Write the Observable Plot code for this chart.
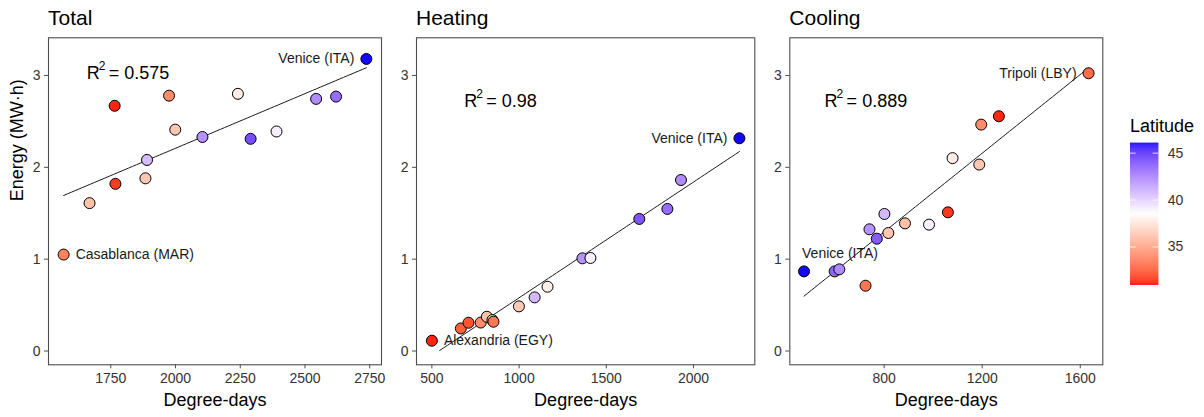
<!DOCTYPE html>
<html><head><meta charset="utf-8">
<script src="https://cdn.jsdelivr.net/npm/d3@7"></script>
<script src="https://cdn.jsdelivr.net/npm/@observablehq/plot@0.6"></script>
<style>
body{margin:0;background:#fff;font-family:"Liberation Sans",Arial,sans-serif;}
#wrap{position:relative;width:1204px;height:417px;overflow:hidden;background:#fff;}
.panel{position:absolute;}
.title{position:absolute;font-size:21px;line-height:21px;color:#000;white-space:nowrap;}
.ltitle{position:absolute;font-size:18px;line-height:18px;color:#000;white-space:nowrap;}
</style></head><body><div id="wrap"></div>
<script>
// ---- data ----
const panelNames = ["Total", "Heating", "Cooling"];
const yTicks = [0, 1, 2, 3];
const yDomain = [-0.15, 3.41];

const totalTicks = [1750, 2000, 2250, 2500, 2750];
const totalX   = [2737, 1765, 1975, 2241, 1999, 2104, 2290, 2390, 2543, 2620, 1890, 1884, 1768, 1668, 1568];
const totalY   = [3.18, 2.67, 2.78, 2.80, 2.41, 2.33, 2.31, 2.39, 2.745, 2.77, 2.08, 1.88, 1.82, 1.61, 1.05];
const totalLat = [46.0, 31.2, 34.0, 37.8, 36.2, 42.0, 44.2, 39.0, 42.2, 43.2, 40.6, 36.2, 31.6, 36.0, 33.6];
const totalLabel = ["Venice (ITA)", "", "", "", "", "", "", "", "", "", "", "", "", "", "Casablanca (MAR)"];

const heatingTicks = [500, 1000, 1500, 2000];
const heatingX   = [500, 666, 710, 780, 815, 847, 853, 999, 1089, 1163, 1363, 1409, 1689, 1850, 1928, 2263];
const heatingY   = [0.112, 0.246, 0.308, 0.31, 0.373, 0.337, 0.319, 0.486, 0.584, 0.70, 1.009, 1.013, 1.438, 1.547, 1.862, 2.316];
const heatingLat = [31.2, 32.5, 32.2, 34.0, 36.0, 36.5, 33.3, 36.3, 40.7, 37.8, 42.0, 39.0, 44.0, 43.2, 42.2, 46.0];
const heatingLabel = ["Alexandria (EGY)", "", "", "", "", "", "", "", "", "", "", "", "", "", "", "Venice (ITA)"];

const coolingTicks = [800, 1200, 1600];
const coolingX   = [473, 598, 617, 724, 740, 770, 801, 817, 885, 983, 1060, 1079, 1188, 1196, 1268, 1634];
const coolingY   = [0.867, 0.867, 0.889, 0.711, 1.325, 1.223, 1.492, 1.285, 1.39, 1.376, 1.51, 2.10, 2.03, 2.465, 2.556, 3.024];
const coolingLat = [46.0, 43.5, 42.3, 33.3, 42.0, 43.8, 40.7, 36.2, 36.0, 39.0, 31.5, 37.8, 36.2, 34.0, 31.2, 32.9];
const coolingLabel = ["Venice (ITA)", "", "", "", "", "", "", "", "", "", "", "", "", "", "", "Tripoli (LBY)"];

const r2Values = ["0.575", "0.98", "0.889"];
const latLimits = [30.9, 38.5, 46.06];
const legendTicks = [35, 40, 45];
const legendTitle = "Latitude";
const xTitle = "Degree-days";
const yTitle = "Energy (MW\u00b7h)";

// ---- drawing ----
const FONT = "'Liberation Sans', Arial, Helvetica, sans-serif";
const colorScale = {type: "linear", domain: latLimits, range: ["red", "white", "blue"], interpolate: d3.interpolateLab};
const wrap = document.getElementById("wrap");
const fmt = d3.format("d");

function fitLine(xs, ys) {
  const mx = d3.mean(xs), my = d3.mean(ys);
  let sxy = 0, sxx = 0;
  xs.forEach((x, i) => { sxy += (x - mx) * (ys[i] - my); sxx += (x - mx) ** 2; });
  const b = sxy / sxx, a = my - b * mx;
  const [x0, x1] = d3.extent(xs);
  return d3.range(80).map(i => { const x = x0 + (x1 - x0) * i / 79; return {x, y: a + b * x}; })
    .filter(d => d.y >= 0);
}

const panels = [
  {xs: totalX, ys: totalY, lats: totalLat, labels: totalLabel, ticks: totalTicks,
   left: 0, width: 390, ml: 48, mr: 9, yAxisTitle: true, r2At: [1657, 3.02],
   place: {"Venice (ITA)": "left", "Casablanca (MAR)": "right"}},
  {xs: heatingX, ys: heatingY, lats: heatingLat, labels: heatingLabel, ticks: heatingTicks,
   left: 390, width: 370, ml: 26, mr: 5.7, yAxisTitle: false, r2At: [685, 2.72],
   place: {"Venice (ITA)": "left", "Alexandria (EGY)": "right"}},
  {xs: coolingX, ys: coolingY, lats: coolingLat, labels: coolingLabel, ticks: coolingTicks,
   left: 760, width: 350, ml: 29.3, mr: 7.7, yAxisTitle: false, r2At: [557, 2.72],
   place: {"Venice (ITA)": "above", "Tripoli (LBY)": "left"}}
];

const TOP = 30, H = 387, MT = 7.3, MB = 52.7;
const svgStyle = {fontFamily: FONT, fontSize: "14px", background: "transparent", overflow: "visible"};

panels.forEach((p, k) => {
  const data = p.xs.map((x, i) => ({x, y: p.ys[i], lat: p.lats[i], label: p.labels[i]}));
  const [x0, x1] = d3.extent(p.xs);
  const pad = (x1 - x0) * 0.05;
  const lab = side => data.filter(d => d.label && p.place[d.label] === side);
  const r2pos = {x: () => p.r2At[0], y: () => p.r2At[1], textAnchor: "start", fill: "#000"};
  const marks = [
    Plot.axisX({ticks: p.ticks, tickFormat: fmt, tickSize: 4, tickPadding: 4, fontSize: 14, stroke: "#4d4d4d", fill: "#333", label: null}),
    Plot.axisY({ticks: yTicks, tickFormat: fmt, tickSize: 4, tickPadding: 4, fontSize: 14, stroke: "#4d4d4d", fill: "#333", label: null}),
    Plot.line(fitLine(p.xs, p.ys), {x: "x", y: "y", stroke: "#1a1a1a", strokeWidth: 1}),
    Plot.dot(data, {x: "x", y: "y", fill: "lat", stroke: "#000", strokeWidth: 1, r: 5.5}),
    Plot.text(lab("left"), {x: "x", y: "y", text: "label", textAnchor: "end", dx: -12, fontSize: 14, fill: "#1a1a1a"}),
    Plot.text(lab("right"), {x: "x", y: "y", text: "label", textAnchor: "start", dx: 12, fontSize: 14, fill: "#1a1a1a"}),
    Plot.text(lab("above"), {x: "x", y: "y", text: "label", textAnchor: "start", dx: -2, dy: -17.5, fontSize: 14, fill: "#1a1a1a"}),
    Plot.text(["R"], {...r2pos, text: d => d, fontSize: 18}),
    Plot.text(["2"], {...r2pos, text: d => d, fontSize: 12, dx: 12, dy: -7}),
    Plot.text([r2Values[k]], {...r2pos, text: d => "= " + d, fontSize: 18, dx: 22}),
    Plot.text([xTitle], {frameAnchor: "bottom", text: d => d, dy: 41, fontSize: 18, fill: "#000"}),
    Plot.frame({stroke: "#4d4d4d", strokeWidth: 1.1})
  ];
  if (p.yAxisTitle) marks.push(Plot.text([yTitle], {frameAnchor: "left", text: d => d, rotate: -90, dx: -31, fontSize: 18, fill: "#000"}));
  const svg = Plot.plot({
    width: p.width, height: H, marginLeft: p.ml, marginRight: p.mr, marginTop: MT, marginBottom: MB,
    style: svgStyle,
    x: {domain: [x0 - pad, x1 + pad]},
    y: {domain: yDomain},
    color: colorScale,
    marks
  });
  svg.classList.add("panel");
  svg.style.left = p.left + "px";
  svg.style.top = TOP + "px";
  wrap.appendChild(svg);
  const t = document.createElement("div");
  t.className = "title";
  t.textContent = panelNames[k];
  t.style.left = (p.left + p.ml) + "px";
  t.style.top = "7px";
  wrap.appendChild(t);
});

// legend (vertical colour bar)
const step = 0.05;
const stripes = d3.range(latLimits[0], latLimits[2], step);
const legend = Plot.plot({
  width: 84, height: 160, marginLeft: 10, marginRight: 45.7, marginTop: 7.7, marginBottom: 10,
  style: svgStyle,
  x: {domain: [0, 1], axis: null},
  y: {domain: [latLimits[0], latLimits[2]], axis: null},
  color: colorScale,
  marks: [
    Plot.rect(stripes, {x1: 0, x2: 1, y1: d => d, y2: d => Math.min(d + step * 1.6, latLimits[2]), fill: d => d}),
    Plot.ruleY(legendTicks, {x1: 0, x2: 0.2, stroke: "white", strokeOpacity: 0.8}),
    Plot.ruleY(legendTicks, {x1: 0.8, x2: 1, stroke: "white", strokeOpacity: 0.8}),
    Plot.axisY({anchor: "right", ticks: legendTicks, tickFormat: fmt, tickSize: 0, tickPadding: 9, fontSize: 14, fill: "#333", label: null})
  ]
});
legend.classList.add("panel");
legend.style.left = "1120px";
legend.style.top = "135px";
wrap.appendChild(legend);
const lt = document.createElement("div");
lt.className = "ltitle";
lt.textContent = legendTitle;
lt.style.left = "1130px";
lt.style.top = "117px";
wrap.appendChild(lt);
</script>
</body></html>
